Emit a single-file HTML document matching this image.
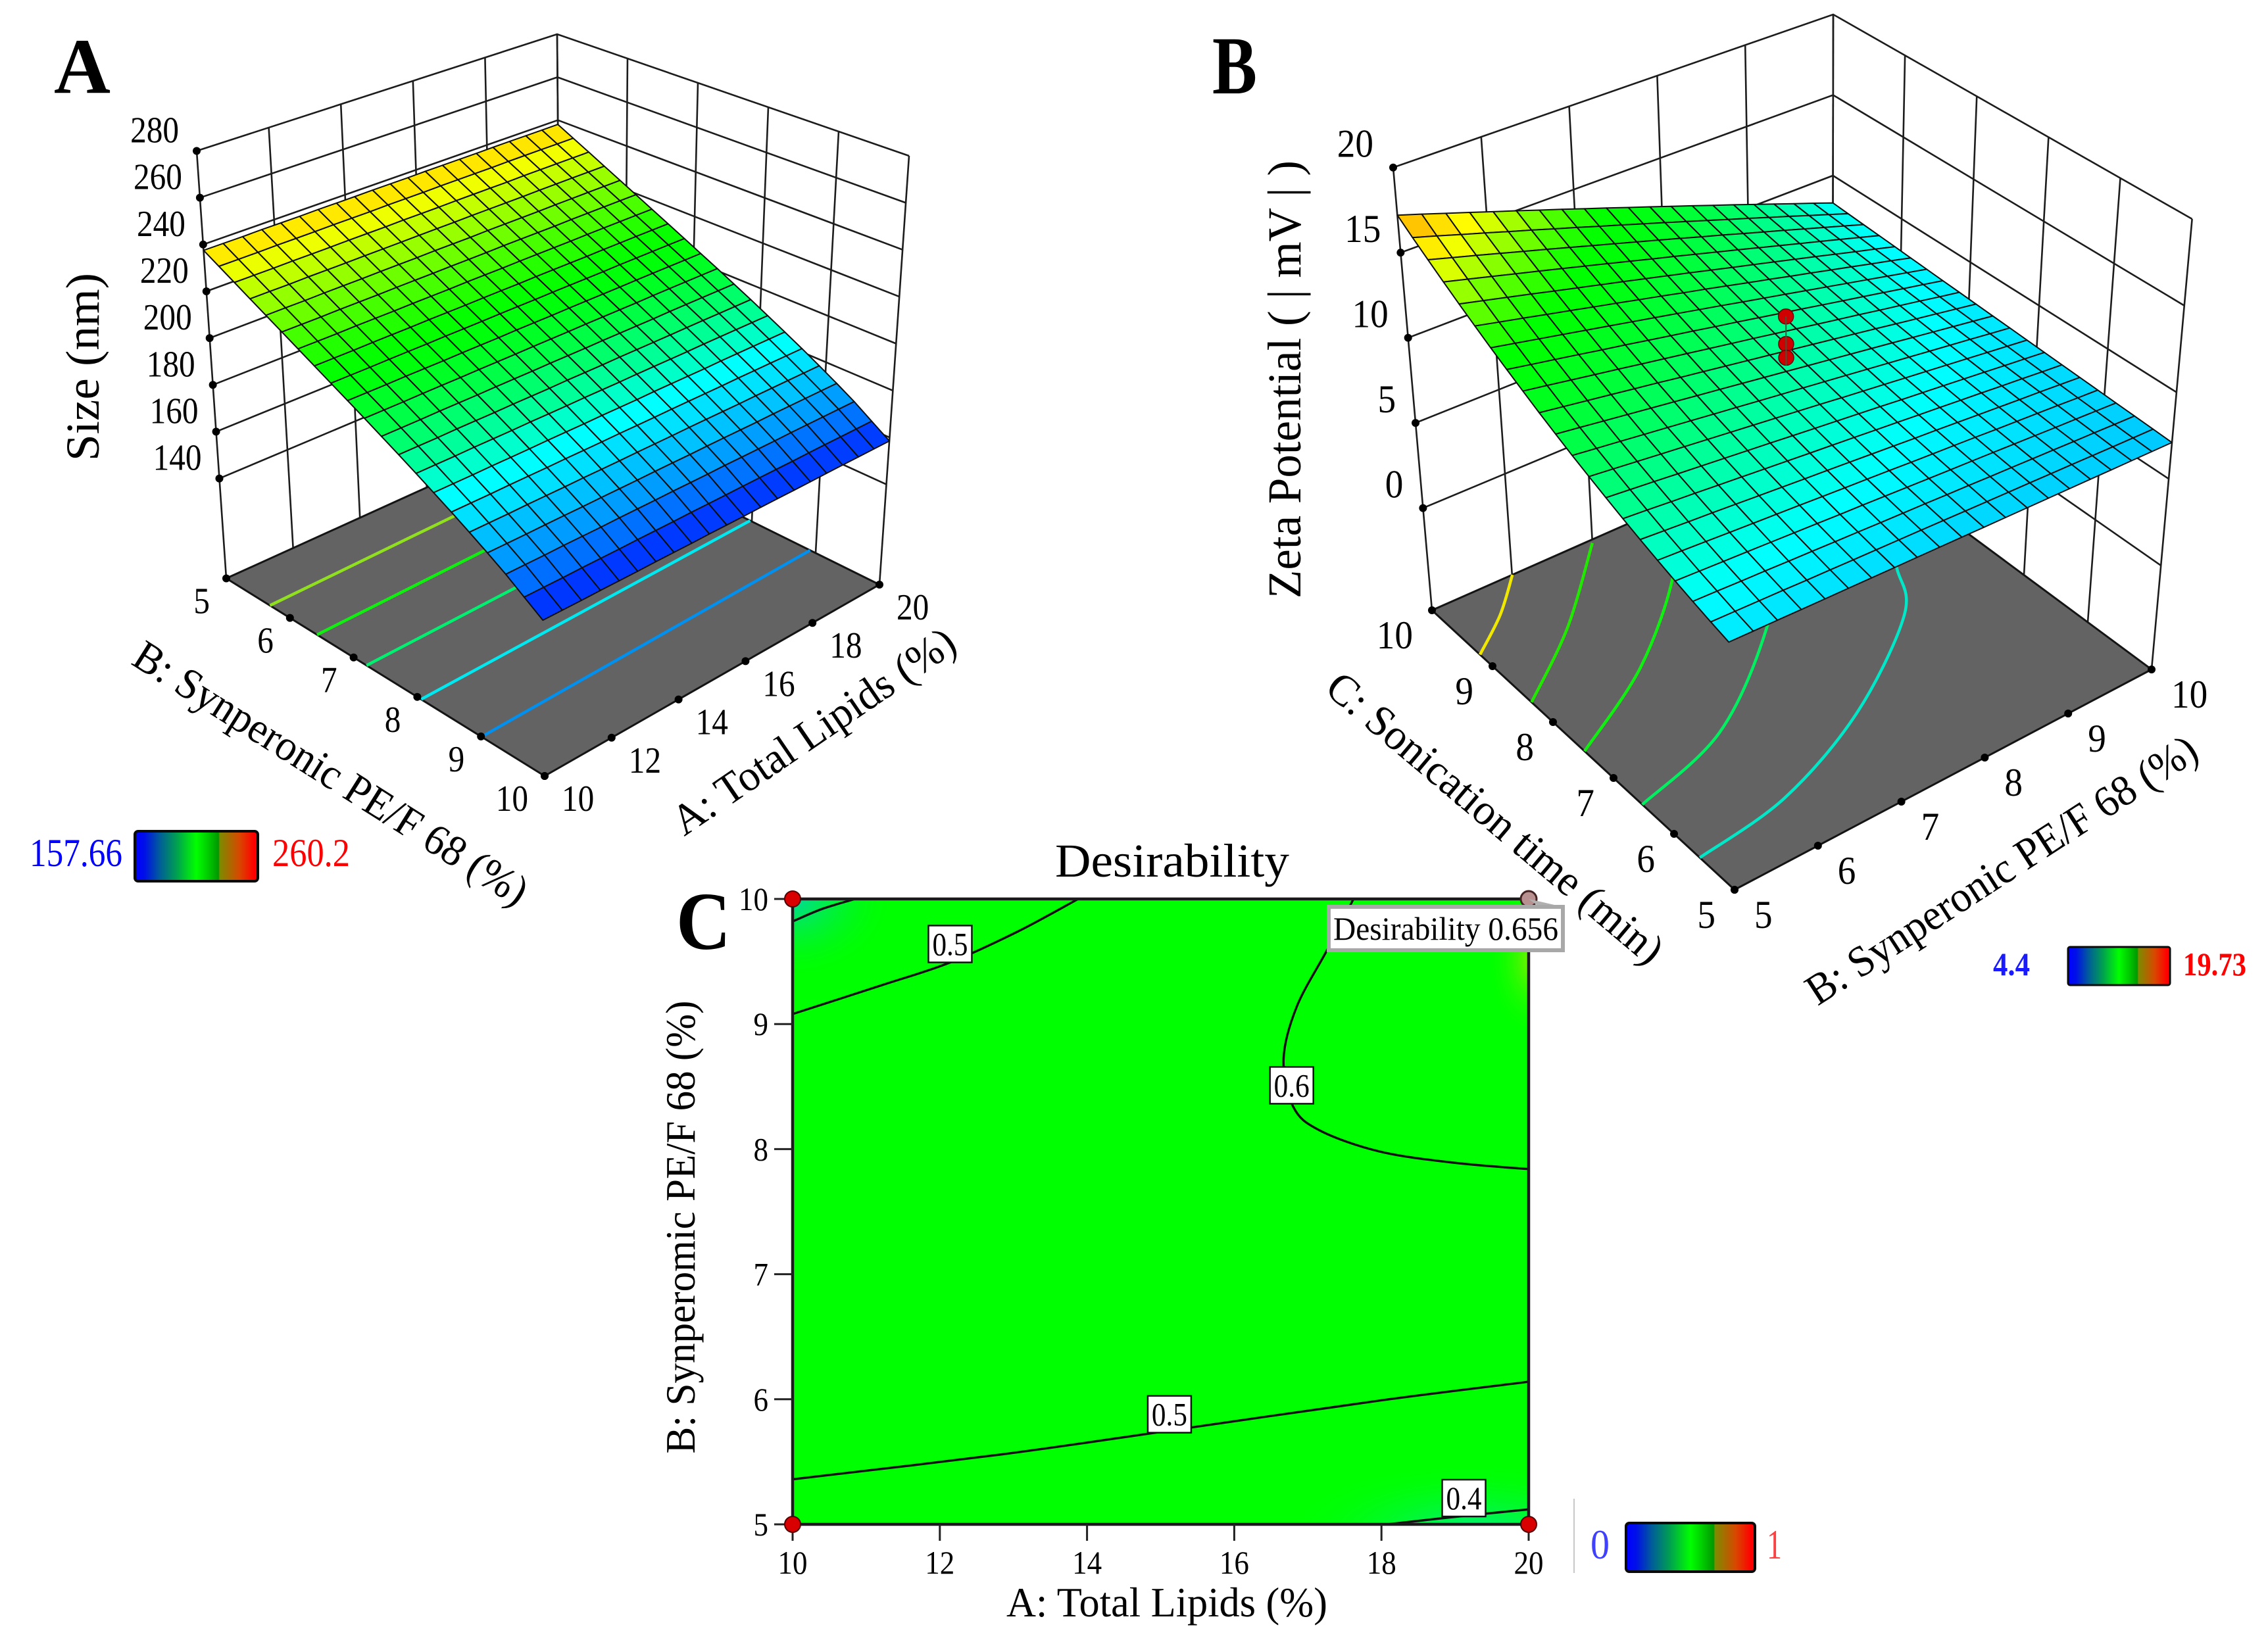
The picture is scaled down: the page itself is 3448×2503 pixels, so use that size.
<!DOCTYPE html>
<html lang="en">
<head>
<meta charset="utf-8">
<title>Response surface and desirability plots</title>
<style>
html,body{margin:0;padding:0;background:#fff;}
svg{display:block;}
text{font-family:"Liberation Serif",serif;fill:#000;}
</style>
</head>
<body>
<svg id="fig" xmlns="http://www.w3.org/2000/svg" width="3448" height="2503" viewBox="0 0 3448 2503">
<defs>
<linearGradient id="bar" x1="0" x2="1" y1="0" y2="0">
<stop offset="0" stop-color="#0000ff"/><stop offset=".08" stop-color="#0010e8"/><stop offset=".2" stop-color="#005c9a"/><stop offset=".34" stop-color="#00a050"/><stop offset=".5" stop-color="#00ff00"/><stop offset=".6" stop-color="#00c800"/><stop offset=".68" stop-color="#009800"/><stop offset=".69" stop-color="#7c8c00"/><stop offset=".85" stop-color="#d84800"/><stop offset=".97" stop-color="#ff0000"/><stop offset="1" stop-color="#ff0000"/>
</linearGradient>
<radialGradient id="glowTeal"><stop offset="0" stop-color="#00d8a0"/><stop offset="1" stop-color="#00ff00" stop-opacity="0"/></radialGradient>
<radialGradient id="glowSea"><stop offset="0" stop-color="#00f080"/><stop offset="1" stop-color="#00ff00" stop-opacity="0"/></radialGradient>
<radialGradient id="glowLime"><stop offset="0" stop-color="#80f000"/><stop offset="1" stop-color="#00ff00" stop-opacity="0"/></radialGradient>
<clipPath id="plotClip"><rect x="1205" y="1367" width="1119" height="951"/></clipPath>
</defs>

<g id="panelA"></g>
<g id="panelB"></g>
<g id="panelC">
  <rect x="1205" y="1367" width="1119" height="951" fill="#00ff00"/>
  <g clip-path="url(#plotClip)">
    <ellipse cx="1205" cy="1367" rx="160" ry="125" fill="url(#glowTeal)"/>
    <ellipse cx="2240" cy="2330" rx="300" ry="110" fill="url(#glowSea)"/>
    <ellipse cx="2330" cy="1460" rx="70" ry="120" fill="url(#glowLime)"/>
  </g>
  <g id="panelCMarks"></g>
</g>

<text x="82" y="141" font-size="120" font-weight="bold" textLength="86" lengthAdjust="spacingAndGlyphs">A</text>
<text x="1843" y="142" font-size="125" font-weight="bold" textLength="68" lengthAdjust="spacingAndGlyphs">B</text>
<text x="1028" y="1443" font-size="125" font-weight="bold" textLength="83" lengthAdjust="spacingAndGlyphs">C</text>

<text transform="translate(150,558) rotate(-90)" text-anchor="middle" font-size="72" textLength="286" lengthAdjust="spacingAndGlyphs">Size (nm)</text>
<text transform="translate(1237,1112) rotate(-34.3)" text-anchor="middle" dominant-baseline="central" font-size="66" textLength="506" lengthAdjust="spacingAndGlyphs">A: Total Lipids (%)</text>
<text transform="translate(503,1176) rotate(32.2)" text-anchor="middle" dominant-baseline="central" font-size="66" textLength="695" lengthAdjust="spacingAndGlyphs">B: Synperonic PE/F 68 (%)</text>

<text transform="translate(1977,577) rotate(-90)" text-anchor="middle" font-size="72" textLength="666" lengthAdjust="spacingAndGlyphs">Zeta Potential ( | mV | )</text>
<text transform="translate(2273,1244) rotate(40.2)" text-anchor="middle" dominant-baseline="central" font-size="66" textLength="648" lengthAdjust="spacingAndGlyphs">C: Sonication time (min)</text>
<text transform="translate(3043,1323) rotate(-33)" text-anchor="middle" dominant-baseline="central" font-size="66" textLength="695" lengthAdjust="spacingAndGlyphs">B: Synperonic PE/F 68 (%)</text>

<text x="1782" y="1333" text-anchor="middle" font-size="72" textLength="356" lengthAdjust="spacingAndGlyphs">Desirability</text>
<text x="1774" y="2458" text-anchor="middle" font-size="64" textLength="488" lengthAdjust="spacingAndGlyphs">A: Total Lipids (%)</text>
<text transform="translate(1056,1866) rotate(-90)" text-anchor="middle" font-size="64" textLength="689" lengthAdjust="spacingAndGlyphs">B: Synperomic PE/F 68 (%)</text>

<g>
  <text x="45" y="1317" font-size="60" style="fill:#0000ff" textLength="141" lengthAdjust="spacingAndGlyphs">157.66</text>
  <rect x="205" y="1264" width="187" height="76" rx="5" fill="url(#bar)" stroke="#0a0a0a" stroke-width="4"/>
  <text x="414" y="1317" font-size="60" style="fill:#ff0000" textLength="118" lengthAdjust="spacingAndGlyphs">260.2</text>
</g>
<g>
  <text x="3030" y="1483" font-size="50" font-weight="bold" style="fill:#1a1aff" textLength="56" lengthAdjust="spacingAndGlyphs">4.4</text>
  <rect x="3144" y="1440" width="155" height="58" rx="3" fill="url(#bar)" stroke="#0a0a0a" stroke-width="3"/>
  <text x="3319" y="1483" font-size="50" font-weight="bold" style="fill:#ff0000" textLength="96" lengthAdjust="spacingAndGlyphs">19.73</text>
</g>
<g>
  <line x1="2393" y1="2279" x2="2393" y2="2392" stroke="#c8c8c8" stroke-width="2"/>
  <text x="2418" y="2370" font-size="64" style="fill:#4040ff" textLength="29" lengthAdjust="spacingAndGlyphs">0</text>
  <rect x="2472" y="2316" width="196" height="74" rx="5" fill="url(#bar)" stroke="#0a0a0a" stroke-width="4"/>
  <text x="2686" y="2370" font-size="64" style="fill:#ff4040" textLength="23" lengthAdjust="spacingAndGlyphs">1</text>
</g>
</svg>

<script>
// ---------- Panel A data ----------
const aAxisTicks = [10, 12, 14, 16, 18, 20];
const bAxisTicks = [5, 6, 7, 8, 9, 10];
const sizeTicks = [140, 160, 180, 200, 220, 240, 260, 280];
const sizeByB = [237.5,233.8,230.1,226.4,222.7,219,215.3,211.6,207.9,204.2,200.5,196.7,192.9,189,185,181,176.8,172.5,168,163,158];
const sizeOffsetByA = [0,0,0,0.1,0.1,0.1,0.2,0.2,0.2,0.3,0.3,0.3,0.4,0.4,0.4,0.4,0.5,0.5,0.5,0.5,0.5];
const sizeContourBAtA10 = [5.76, 6.55, 7.35, 8.2, 9.1];
const sizeContourBAtA20 = [5.66, 6.45, 7.25, 8.1, 9.0];
const sizeContourColors = ["#90e020", "#10f010", "#00f070", "#00e8f0", "#0090f0"];

// ---------- Panel B data ----------
const cAxisTicks = [5, 6, 7, 8, 9, 10];
const zetaTicks = [0, 5, 10, 15, 20];
const runPointZeta = [12.8, 11.2, 10.4];
// rows: C from 10 down to 5; columns: B from 5 up to 10
const zetaGrid = [
[17.20,16.76,16.31,15.87,15.42,14.98,14.53,14.09,13.64,13.20,12.75,12.31,11.86,11.42,10.97,10.53,10.08,9.64,9.19,8.75,8.30],
[16.54,16.13,15.71,15.30,14.88,14.47,14.05,13.64,13.22,12.81,12.39,11.98,11.56,11.15,10.73,10.32,9.90,9.49,9.07,8.66,8.24],
[15.91,15.52,15.14,14.75,14.36,13.98,13.59,13.20,12.82,12.43,12.05,11.66,11.27,10.89,10.50,10.11,9.73,9.34,8.95,8.57,8.18],
[15.29,14.93,14.57,14.21,13.86,13.50,13.14,12.78,12.42,12.06,11.71,11.35,10.99,10.63,10.27,9.91,9.55,9.20,8.84,8.48,8.12],
[14.69,14.36,14.03,13.70,13.36,13.03,12.70,12.37,12.04,11.71,11.38,11.04,10.71,10.38,10.05,9.72,9.39,9.05,8.72,8.39,8.06],
[14.11,13.80,13.50,13.19,12.89,12.58,12.28,11.97,11.67,11.36,11.06,10.75,10.44,10.14,9.83,9.53,9.22,8.92,8.61,8.31,8.00],
[13.55,13.27,12.99,12.71,12.43,12.15,11.87,11.59,11.31,11.03,10.75,10.46,10.18,9.90,9.62,9.34,9.06,8.78,8.50,8.22,7.94],
[13.01,12.75,12.50,12.24,11.98,11.73,11.47,11.21,10.96,10.70,10.45,10.19,9.93,9.68,9.42,9.16,8.91,8.65,8.39,8.14,7.88],
[12.49,12.26,12.02,11.79,11.56,11.32,11.09,10.86,10.62,10.39,10.16,9.92,9.69,9.45,9.22,8.99,8.75,8.52,8.29,8.05,7.82],
[11.98,11.77,11.56,11.35,11.14,10.93,10.71,10.50,10.29,10.08,9.87,9.66,9.45,9.24,9.03,8.82,8.60,8.39,8.18,7.97,7.76],
[11.50,11.31,11.12,10.93,10.74,10.55,10.36,10.17,9.98,9.79,9.60,9.41,9.22,9.03,8.84,8.65,8.46,8.27,8.08,7.89,7.70],
[11.03,10.86,10.69,10.52,10.35,10.18,10.01,9.84,9.67,9.50,9.34,9.17,9.00,8.83,8.66,8.49,8.32,8.15,7.98,7.81,7.64],
[10.59,10.44,10.29,10.14,9.99,9.84,9.69,9.54,9.39,9.24,9.09,8.93,8.78,8.63,8.48,8.33,8.18,8.03,7.88,7.73,7.58],
[10.16,10.03,9.90,9.76,9.63,9.50,9.37,9.24,9.10,8.97,8.84,8.71,8.58,8.44,8.31,8.18,8.05,7.92,7.78,7.65,7.52],
[9.75,9.64,9.52,9.41,9.29,9.18,9.06,8.95,8.83,8.72,8.61,8.49,8.38,8.26,8.15,8.03,7.92,7.80,7.69,7.57,7.46],
[9.36,9.26,9.16,9.07,8.97,8.87,8.77,8.67,8.58,8.48,8.38,8.28,8.18,8.09,7.99,7.89,7.79,7.69,7.60,7.50,7.40],
[8.99,8.91,8.83,8.74,8.66,8.58,8.50,8.41,8.33,8.25,8.17,8.08,8.00,7.92,7.84,7.75,7.67,7.59,7.51,7.42,7.34],
[8.64,8.57,8.50,8.44,8.37,8.30,8.23,8.16,8.10,8.03,7.96,7.89,7.82,7.76,7.69,7.62,7.55,7.48,7.42,7.35,7.28],
[8.31,8.26,8.20,8.15,8.09,8.04,7.98,7.93,7.87,7.82,7.77,7.71,7.66,7.60,7.55,7.49,7.44,7.38,7.33,7.27,7.22],
[7.99,7.95,7.91,7.87,7.82,7.78,7.74,7.70,7.66,7.62,7.58,7.53,7.49,7.45,7.41,7.37,7.33,7.28,7.24,7.20,7.16],
[7.70,7.67,7.64,7.61,7.58,7.55,7.52,7.49,7.46,7.43,7.40,7.37,7.34,7.31,7.28,7.25,7.22,7.19,7.16,7.13,7.10]
];
// floor contours as [C, B] readings
const zetaContour1 = [[9.13,5],[9.53,5.49],[10,5.94]];
const zetaContour2 = [[8.23,5],[8.96,5.9],[9.95,6.87]];
const zetaContour3 = [[7.34,5],[8.03,6.12],[9.05,7.24],[10,7.9]];
const zetaContour4 = [[6.41,5],[6.79,6.15],[7.77,7.44],[9,8.6]];
const zetaContour5 = [[5.52,5],[5.69,6.08],[6.23,7.35],[7.11,8.64],[7.73,9.05],[8.3,9.35]];
const zetaContourColors = ["#f0e800", "#20e800", "#10f010", "#00f060", "#00e8c8"];

// ---------- Panel C data ----------
const cXTicks = [10, 12, 14, 16, 18, 20];
const cYTicks = [5, 6, 7, 8, 9, 10];
const desContourCorner = [[10,9.82],[10.4,9.92],[10.85,10]];
const desContourTop = [[10,9.08],[11.21,9.31],[12.13,9.49],[13.06,9.74],[13.88,10]];
const desContourPeak = [[17.62,10],[17.26,9.59],[16.85,9.14],[16.67,8.72],[16.8,8.34],[17.16,8.15],[17.98,7.98],[19,7.89],[20,7.84]];
const desContourLow = [[10,5.36],[12.85,5.56],[15.13,5.75],[17.98,5.99],[20,6.14]];
const desContourEdge = [[18.08,5],[19,5.06],[20,5.12]];
const desLabelText = ["0.5", "0.6", "0.5", "0.4"];
const desLabelA = [12.14, 16.78, 15.12, 19.12];
const desLabelB = [9.64, 8.51, 5.88, 5.21];
const designPointA = [10, 10, 20];
const designPointB = [10, 5, 5];

// ---------- helpers ----------
const NS = "http://www.w3.org/2000/svg";
function make(parent, tag, attrs, text) {
  const el = document.createElementNS(NS, tag);
  for (const k in attrs) el.setAttribute(k, attrs[k]);
  if (text !== undefined) el.textContent = text;
  parent.appendChild(el);
  return el;
}
function lineX(a, b, c, d) {
  const d1x = b[0]-a[0], d1y = b[1]-a[1], d2x = d[0]-c[0], d2y = d[1]-c[1];
  const den = d1x*d2y - d1y*d2x;
  const t = ((c[0]-a[0])*d2y - (c[1]-a[1])*d2x) / den;
  return [a[0]+t*d1x, a[1]+t*d1y];
}
function quadMap(p00, p10, p11, p01) {
  const sx = p00[0]-p10[0]+p11[0]-p01[0], sy = p00[1]-p10[1]+p11[1]-p01[1];
  const dx1 = p10[0]-p11[0], dy1 = p10[1]-p11[1], dx2 = p01[0]-p11[0], dy2 = p01[1]-p11[1];
  const den = dx1*dy2 - dy1*dx2;
  const g = (sx*dy2 - sy*dx2)/den, h = (dx1*sy - dy1*sx)/den;
  const a = p10[0]-p00[0]+g*p10[0], b = p01[0]-p00[0]+h*p01[0];
  const d = p10[1]-p00[1]+g*p10[1], e = p01[1]-p00[1]+h*p01[1];
  return (s, r) => {
    const q = g*s+h*r+1;
    return [(a*s+b*r+p00[0])/q, (d*s+e*r+p00[1])/q];
  };
}
function mix(a, b, t) { return [a[0]+(b[0]-a[0])*t, a[1]+(b[1]-a[1])*t]; }
const rampColors = [[0,0,255],[0,255,255],[0,255,0],[255,255,0],[255,0,0]];
function ramp(t, stops) {
  t = Math.max(0, Math.min(1, t));
  let i = 0;
  while (i < 3 && t > stops[i+1]) i++;
  let f = (t-stops[i])/(stops[i+1]-stops[i]);
  if (i === 0) f = Math.pow(f, 0.7);
  if (i === 1) f = 1-Math.pow(1-f, 1.4);
  if (i === 2) f = Math.pow(f, 1.2);
  const m = rampColors[i].map((v, k) => Math.round(v+(rampColors[i+1][k]-v)*f));
  return "rgb("+m.join(",")+")";
}
function smoothPath(pts) {
  let d = "M"+pts[0][0].toFixed(1)+" "+pts[0][1].toFixed(1);
  for (let i = 0; i < pts.length-1; i++) {
    const p0 = pts[Math.max(0,i-1)], p1 = pts[i], p2 = pts[i+1], p3 = pts[Math.min(pts.length-1,i+2)];
    d += " C"+(p1[0]+(p2[0]-p0[0])/6).toFixed(1)+" "+(p1[1]+(p2[1]-p0[1])/6).toFixed(1)+" "+
         (p2[0]-(p3[0]-p1[0])/6).toFixed(1)+" "+(p2[1]-(p3[1]-p1[1])/6).toFixed(1)+" "+
         p2[0].toFixed(1)+" "+p2[1].toFixed(1);
  }
  return d;
}
function pts(list) { return list.map(p => p[0].toFixed(1)+","+p[1].toFixed(1)).join(" "); }
function tickText(size, squeeze, s) {
  return {"font-size":size, textLength:(s.length*size*0.5*squeeze).toFixed(1), lengthAdjust:"spacingAndGlyphs"};
}

// ---------- 3D panel ----------
function panel3D(cfg) {
  const root = document.getElementById(cfg.id);
  const floor = quadMap(cfg.Lf, cfg.Ff, cfg.Rf, cfg.Bf);
  const vp1 = lineX(cfg.Lf, cfg.Ff, cfg.Bf, cfg.Rf);
  const vp2 = lineX(cfg.Lf, cfg.Bf, cfg.Ff, cfg.Rf);
  const Ft = lineX(cfg.Lt, vp1, cfg.Rt, vp2);
  const top = quadMap(cfg.Lt, Ft, cfg.Rt, cfg.Bt);
  const wOf = z => (z-cfg.zFloor)/(cfg.zTop-cfg.zFloor);
  const project = (s, r, z) => {
    const a = floor(s, r), b = top(s, r), w = wOf(z);
    return [a[0]+(b[0]-a[0])*w, a[1]+(b[1]-a[1])*w];
  };

  const walls = make(root, "g", {stroke:"#1c1c1c","stroke-width":2.6,fill:"none"});
  
  
  cfg.zTicks.forEach(z => {
    const a = project(0,0,z), b = project(0,1,z), c = project(1,1,z);
    const el = make(walls, "polyline", {points:pts([a,b,c])});
    
    
  });
  for (let k = 0; k <= 5; k++) {
    const a1 = mix(cfg.Lf, cfg.Bf, k/5), a2 = mix(cfg.Lt, cfg.Bt, k/5);
    const e1 = make(walls, "line", {x1:a1[0],y1:a1[1],x2:a2[0],y2:a2[1]});
    
    
    const b1 = mix(cfg.Bf, cfg.Rf, k/5), b2 = mix(cfg.Bt, cfg.Rt, k/5);
    const e3 = make(walls, "line", {x1:b1[0],y1:b1[1],x2:b2[0],y2:b2[1]});
    
    
  }

  const fl = make(root, "polygon", {points:pts([cfg.Lf,cfg.Ff,cfg.Rf,cfg.Bf]),fill:"#636363",stroke:"#141414","stroke-width":3});
  
  

  cfg.contours.forEach((c, i) => {
    const d = smoothPath(c.map(p => project(p[0], p[1], cfg.zFloor)));
    const el = make(root, "path", {d:d,fill:"none",stroke:cfg.contourColors[i],"stroke-width":4.5});
    
    
  });

  const surf = make(root, "g", {stroke:"#0e0e0e","stroke-width":2,"stroke-linejoin":"round"});
  
  
  const n = 20;
  for (let i = 0; i < n; i++) {
    for (let j = 0; j < n; j++) {
      const z00 = cfg.z(i,j), z10 = cfg.z(i+1,j), z11 = cfg.z(i+1,j+1), z01 = cfg.z(i,j+1);
      const poly = [project(i/n,j/n,z00), project((i+1)/n,j/n,z10), project((i+1)/n,(j+1)/n,z11), project(i/n,(j+1)/n,z01)];
      const t = ((z00+z10+z11+z01)/4-cfg.zMin)/(cfg.zMax-cfg.zMin);
      const el = make(surf, "polygon", {points:pts(poly),fill:ramp(t,cfg.stops)});
      
      
    }
  }

  cfg.zTicks.forEach(z => {
    const p = project(0,0,z);
    const dot = make(root, "circle", {cx:p[0],cy:p[1],r:6,fill:"#000"});
    
    
    const label = String(z);
    const t = make(root, "text", Object.assign({x:p[0]-cfg.zDx,y:p[1]-cfg.zDy,"text-anchor":"end","dominant-baseline":"central"}, tickText(cfg.tickSize,cfg.squeeze,label)), label);
    
    
  });
  cfg.leftTicks.forEach(v => {
    const p = mix(cfg.Lf, cfg.Ff, cfg.leftS(v));
    const dot = make(root, "circle", {cx:p[0],cy:p[1],r:6,fill:"#000"});
    
    
    const label = String(v);
    const t = make(root, "text", Object.assign({x:p[0]-cfg.floorDx,y:p[1]+cfg.floorDy,"text-anchor":"end","dominant-baseline":"central"}, tickText(cfg.tickSize,cfg.squeeze,label)), label);
    
    
  });
  cfg.rightTicks.forEach(v => {
    const p = mix(cfg.Ff, cfg.Rf, cfg.rightR(v));
    const dot = make(root, "circle", {cx:p[0],cy:p[1],r:6,fill:"#000"});
    
    
    const label = String(v);
    const t = make(root, "text", Object.assign({x:p[0]+cfg.floorDx+1,y:p[1]+cfg.floorDy,"text-anchor":"start","dominant-baseline":"central"}, tickText(cfg.tickSize,cfg.squeeze,label)), label);
    
    
  });

  if (cfg.points) {
    const first = project(.5,.5,cfg.points[0]);
    const last = project(.5,.5,cfg.points[cfg.points.length-1]);
    cfg.points.forEach(z => {
      const p = project(.5,.5,z);
      const dot = make(root, "circle", {cx:p[0],cy:p[1],r:11.5,fill:"#d00000",stroke:"#600","stroke-width":1.5});
      
      
    });
    const stem = make(root, "line", {x1:first[0],y1:first[1],x2:last[0],y2:last[1]+12,stroke:"#3a5a3a","stroke-width":2});
    
    
  }
}

panel3D({
  id:"panelA",
  Lt:[299,229.5], Bt:[847,52], Rt:[1382,237],
  Lf:[344,879.5], Ff:[828,1180], Rf:[1337,889], Bf:[852,649],
  zFloor:97.3, zTop:280, zMin:157.66, zMax:260.2, stops:[0,.25,.5,.74,1],
  zTicks:sizeTicks, tickSize:56, squeeze:.88, zDx:27, zDy:31, floorDx:25, floorDy:35,
  leftTicks:bAxisTicks, leftS:v => (v-5)/5,
  rightTicks:aAxisTicks, rightR:v => (v-10)/10,
  z:(i,j) => sizeByB[i]+sizeOffsetByA[j],
  contours:sizeContourBAtA10.map((b,i) => [[(b-5)/5,0],[(sizeContourBAtA20[i]-5)/5,1]]),
  contourColors:sizeContourColors
});

function zetaContourSR(list) { return list.map(p => [(10-p[0])/5,(p[1]-5)/5]); }
panel3D({
  id:"panelB",
  Lt:[2118,254.7], Bt:[2787,22], Rt:[3332.6,333],
  Lf:[2177,928], Ff:[2637,1353], Rf:[3271,1018], Bf:[2786,659],
  zFloor:-6, zTop:20, zMin:4.4, zMax:19.73, stops:[0,.25,.57,.74,1],
  zTicks:zetaTicks, tickSize:60, squeeze:.92, zDx:30, zDy:36, floorDx:29, floorDy:38,
  leftTicks:cAxisTicks, leftS:v => (10-v)/5,
  rightTicks:bAxisTicks, rightR:v => (v-5)/5,
  z:(i,j) => zetaGrid[i][j],
  contours:[zetaContour1,zetaContour2,zetaContour3,zetaContour4,zetaContour5].map(zetaContourSR),
  contourColors:zetaContourColors,
  points:runPointZeta
});

// ---------- Panel C ----------
(function () {
  const root = document.getElementById("panelCMarks");
  const X = a => 1205+(a-10)/10*1119;
  const Y = b => 2318-(b-5)/5*951;
  [desContourCorner,desContourTop,desContourPeak,desContourLow,desContourEdge].forEach(c => {
    const el = make(root, "path", {d:smoothPath(c.map(p => [X(p[0]),Y(p[1])])),fill:"none",stroke:"#111","stroke-width":3.5});
    
    
  });
  const frame = make(root, "rect", {x:1205,y:1367,width:1119,height:951,fill:"none",stroke:"#1a1a1a","stroke-width":4.5});
  
  
  cXTicks.forEach(v => {
    const tk = make(root, "line", {x1:X(v),y1:2318,x2:X(v),y2:2343,stroke:"#222","stroke-width":3});
    
    
    const label = String(v);
    const t = make(root, "text", Object.assign({x:X(v),y:2376,"text-anchor":"middle","dominant-baseline":"central"}, tickText(50,.9,label)), label);
    
    
  });
  cYTicks.forEach(v => {
    const tk = make(root, "line", {x1:1177,y1:Y(v),x2:1205,y2:Y(v),stroke:"#222","stroke-width":3});
    
    
    const label = String(v);
    const t = make(root, "text", Object.assign({x:1168,y:Y(v),"text-anchor":"end","dominant-baseline":"central"}, tickText(50,.9,label)), label);
    
    
  });
  desLabelText.forEach((txt,i) => {
    const x = X(desLabelA[i]), y = Y(desLabelB[i]);
    const box = make(root, "rect", {x:x-33,y:y-28,width:66,height:56,fill:"#fff",stroke:"#111","stroke-width":2.5});
    
    
    const t = make(root, "text", {x:x,y:y,"text-anchor":"middle","dominant-baseline":"central","font-size":50,textLength:54,lengthAdjust:"spacingAndGlyphs"}, txt);
    
    
  });
  designPointA.forEach((a,i) => {
    const dot = make(root, "circle", {cx:X(a),cy:Y(designPointB[i]),r:12,fill:"#d80000",stroke:"#500","stroke-width":2});
    
    
  });
  const opt = make(root, "circle", {cx:X(20),cy:Y(10),r:12,fill:"#b89090",stroke:"#422","stroke-width":3});
  
  
  const leader = make(root, "polygon", {points:"2324,1367 2376,1379 2340,1379",fill:"#b0b0b0"});
  
  
  const tip = make(root, "rect", {x:2020,y:1379,width:356,height:66,fill:"#fff",stroke:"#a8a8a8","stroke-width":6});
  
  
  const tipText = make(root, "text", {x:2198,y:1412,"text-anchor":"middle","dominant-baseline":"central","font-size":50,textLength:342,lengthAdjust:"spacingAndGlyphs"}, "Desirability  0.656");
  
  
})();
</script>
</body>
</html>
